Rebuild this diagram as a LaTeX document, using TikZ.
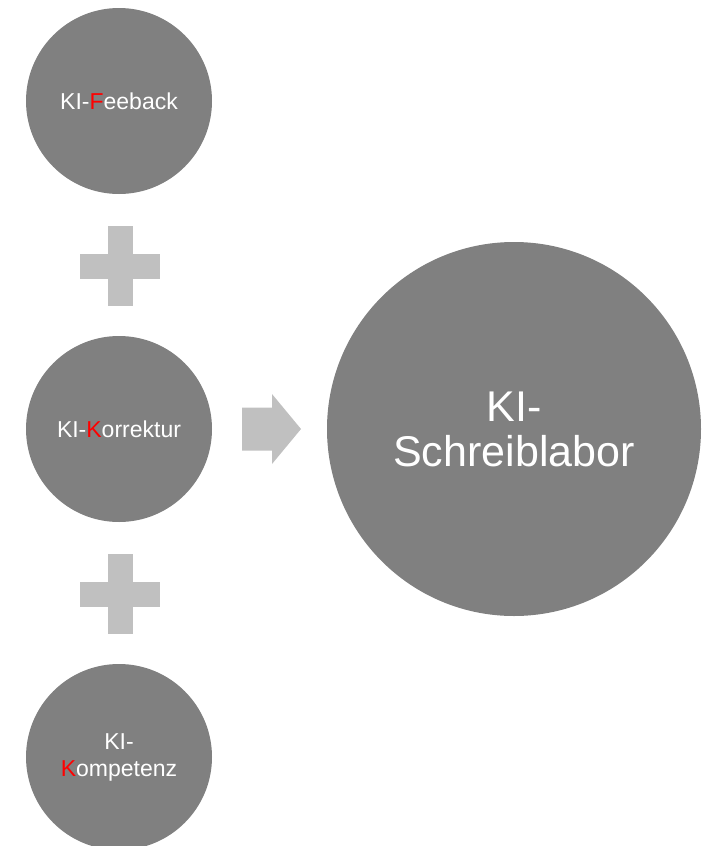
\documentclass[tikz,border=0pt]{standalone}
\usepackage{fontspec}
\setmainfont{Liberation Sans}
\usepackage{tikz}
\usetikzlibrary{calc}
\definecolor{ballgray}{HTML}{808080}
\definecolor{signgray}{HTML}{C0C0C0}
\def\ballnode{\node[circle,fill=ballgray,text=white,inner sep=0pt,align=center]}
\def\drawsign{\fill[signgray]}
\def\redchar#1{\textcolor{red}{#1}}

\begin{document}
\begin{tikzpicture}[x=0.5pt,y=-0.5pt]
\useasboundingbox (0,0) rectangle (702,846);

% -------- left column ---------
\ballnode[minimum size=93pt,font=\fontsize{11.5}{13.5}\selectfont] (feedback) at (119,101) {KI-\redchar{F}eeback};
\ballnode[minimum size=93pt,font=\fontsize{11.5}{13.5}\selectfont] (korrektur) at (119,429) {KI-\redchar{K}orrektur};
\ballnode[minimum size=93pt,font=\fontsize{11.5}{13.5}\selectfont] (kompetenz) at (119,757) {KI-\\\redchar{K}ompetenz};

% plus signs between the circles
\coordinate (plusA) at (120,266);
\coordinate (plusB) at (120,594);
\foreach \p in {plusA,plusB} {
  \drawsign ($ (\p) + (-12.5,-40) $) rectangle ($ (\p) + (12.5,40) $);
  \drawsign ($ (\p) + (-40,-12.5) $) rectangle ($ (\p) + (40,12.5) $);
}

% -------- result ---------
\ballnode[minimum size=187pt,font=\fontsize{21.5}{22.5}\selectfont] (labor) at (514,429) {KI-\\Schreiblabor};

\coordinate (arrow) at (272,429); % base of the arrow head
\drawsign ($ (arrow) + (-30,-21.5) $) -- ($ (arrow) + (0,-21.5) $)
  -- ($ (arrow) + (0,-35) $) -- ($ (arrow) + (29,0) $)
  -- ($ (arrow) + (0,35) $) -- ($ (arrow) + (0,21.5) $)
  -- ($ (arrow) + (-30,21.5) $) -- cycle;
\end{tikzpicture}
\end{document}
